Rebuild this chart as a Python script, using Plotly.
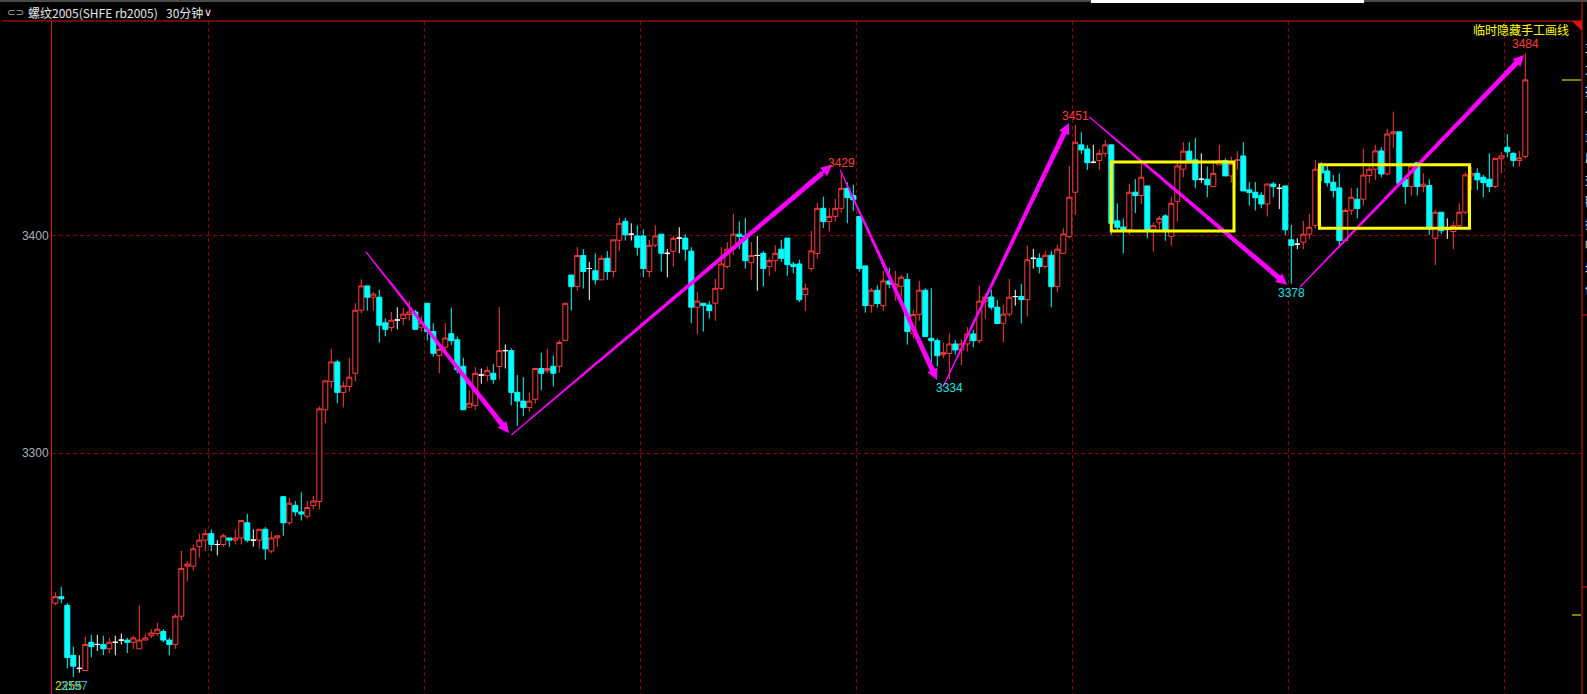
import plotly.graph_objects as go

# ---------------- data (30-minute bars, rb2005) ----------------
opens = [3231,3234,3230,3207,3201,3200,3213,3212,3212,3210,3213,3214,3214,3213,3210,3214,3216,3217,3218,3214,
         3212,3225,3248,3248,3257,3260,3263,3258,3258,3261,3260,3261,3268,3260,3260,3265,3255,3261,3280,3268,
         3276,3273,3271,3275.9,3277.8,3320,3333,3342,3328,3330.7,3336.8,3365.8,3377,3371.8,3371.8,3360,3357.8,3361.3,3362,3363.8,
         3365,3358,3369,3356,3345,3348.8,3355,3352.2,3340,3321.2,3322,3336,3335.7,3336.8,3339.9,3347.2,3347.2,3328,3324,3321,
         3324.8,3339,3338,3340,3340,3351.8,3382,3376.7,3391,3385,3384,3379.8,3389.7,3383.6,3398,3406.7,3400.8,3400,3400,3383.6,
         3395.7,3400.8,3392,3392.9,3399,3399,3393,3367.2,3369,3368.2,3369,3375.8,3385.9,3393.9,3400.8,3400,3387.7,3391,3392,3385.9,
         3388.6,3393.9,3399,3387,3387.1,3373,3385,3391.9,3412.7,3406.6,3409,3412.7,3421.9,3418.6,3409,3386.2,3367.9,3375,3367.9,3379.3,
         3376.4,3376.8,3380,3355,3363.8,3375,3352.9,3351.8,3345.3,3345.9,3350.3,3347.5,3350.3,3354.9,3351.8,3369.9,3371.9,3367.2,3359.8,3364,
         3372.1,3372.1,3370.7,3389.7,3389.7,3385.9,3391.1,3376.7,3392,3399.7,3420.1,3441.9,3440,3433.9,3434.7,3438,3441.9,3406.9,3404.1,3402.8,
         3420.1,3418.6,3423,3402.8,3406.1,3409.2,3399.7,3415.8,3430.7,3439,3435,3426.1,3426.1,3422.7,3432.7,3434.7,3427.6,3434.7,3436.8,3421.2,
         3420.1,3418.7,3414.7,3423.9,3421.9,3423,3398.2,3396.2,3397.1,3400.8,3404.9,3432,3429.9,3424.7,3422.1,3397.9,3411.8,3416.9,3416.9,3427.8,
         3430.7,3439.1,3428.5,3447,3447.9,3426,3422.7,3433.7,3422.7,3423.2,3398.9,3410.9,3403.1,3402,3404.7,3410.9,3427.6,3428.8,3427,3426.1,
         3422.7,3435.5,3440.8,3438,3434.7,3436.5]
highs = [3236,3238.5,3231,3211,3207,3215.6,3216.4,3216.4,3216,3215,3216,3217,3215,3216,3230,3217,3219,3222,3219,3215,
         3226,3255,3250.4,3258,3263,3265,3265,3260,3263,3261,3265,3269,3272,3265,3265,3266,3264,3262,3280,3279.5,
         3278,3282,3278,3280.3,3321.5,3333.3,3348,3343,3333,3344,3369,3380,3377,3374.2,3375.2,3362,3365,3367.2,3367,3370,
         3366,3363,3369,3359.8,3348.8,3359.8,3367,3353.7,3344,3329,3339.6,3339,3339.9,3341,3367.2,3350,3348.3,3336,3335,3328,
         3339,3346.2,3348,3345,3352,3369,3382,3394.8,3393.9,3388,3392,3391,3393,3398.2,3408.3,3408.3,3405.8,3404.9,3403,3398.2,
         3404.9,3400.8,3394,3400,3404,3400.8,3394.8,3374.2,3369,3370,3380.2,3394.8,3397.2,3410.1,3406.7,3408.3,3397.2,3400,3393,3389.7,
         3395.7,3398.2,3399,3388,3389,3378.2,3402.3,3415.3,3418.1,3412.7,3417,3429.3,3424.7,3423.5,3409,3386.2,3376,3377.3,3383.9,3385.3,
         3383.9,3382,3382.8,3366,3379.3,3375.9,3375.9,3352.9,3350.9,3355.2,3352.1,3352.4,3358,3356.8,3377.1,3373.6,3375.2,3370.5,3368.3,3380.1,
         3375.2,3377.8,3395.6,3394,3392,3393,3393,3395.9,3403.5,3432.2,3451.1,3447.7,3441.9,3441.9,3439.9,3444.2,3441.9,3415,3408.1,3423.9,
         3426.1,3433.4,3423,3406.1,3409.2,3410.1,3417.8,3434.7,3443.1,3443.1,3445,3438,3431.9,3435,3441.9,3435.7,3436.5,3439,3443.1,3424.7,
         3424.8,3420.1,3423.9,3424.8,3423.9,3423,3405.1,3398.9,3406.9,3410.1,3435,3434,3432.2,3428,3428.8,3412.7,3422.1,3422.1,3440.2,3432.8,
         3441.9,3440.8,3449.2,3457.2,3447.9,3427.9,3433.7,3433.7,3428.8,3426.1,3412,3410.9,3408.1,3406.6,3415,3429.3,3431.9,3431.1,3428.1,3438,
         3435.7,3438.8,3446.9,3438.5,3439.1,3484]
lows = [3230,3231,3201,3197,3199,3200,3206,3209,3207,3208,3207,3212,3208,3210,3210,3214,3215,3216,3213,3207,
        3210,3223,3241,3246,3252,3255,3255,3253,3257,3257,3258,3258,3259,3257,3256,3251,3254,3257,3262,3267,
        3271,3269,3270,3274.2,3274.2,3313.8,3330,3323,3321,3328.4,3333,3364.4,3365.6,3365.6,3350.9,3353.8,3356,3357,3359,3361,
        3357,3356,3351.9,3344.5,3336.8,3345.7,3349.8,3336.8,3320,3321.2,3320,3332,3333,3332,3334,3339,3322,3312.6,3317,3319,
        3322.8,3329,3336.8,3330.7,3337,3351.8,3365.6,3374.8,3375.8,3370.5,3377.6,3379.8,3379.8,3381,3393,3397.9,3397.9,3391,3381,3381,
        3394.8,3383.6,3381,3385.9,3392,3388.6,3359.8,3354.7,3356,3362,3361,3374.8,3385,3391.1,3393.9,3385,3379.8,3374.8,3376.7,3381.6,
        3383.6,3388,3381.6,3382.8,3369.6,3365.5,3383.6,3389.4,3403.7,3402,3406.6,3410.6,3405.8,3411.5,3383.6,3364.7,3364.7,3367,3365.5,3375.9,
        3370.2,3372,3350,3352.8,3361,3353.7,3340.6,3339.9,3343.7,3334,3345.3,3340.6,3346.8,3348.8,3350.6,3361.8,3366,3359.7,3351.1,3362.9,
        3367.9,3359.7,3362.9,3385,3382.8,3385.1,3367.2,3374.1,3392,3398.9,3409.7,3437.7,3430.4,3433.4,3430.4,3436.5,3400.5,3402.8,3392,3400.5,
        3410.5,3414.7,3398.9,3392.8,3402.8,3397.8,3395.5,3406.6,3427,3433.4,3421.9,3424.5,3417.8,3422.7,3432.7,3427.6,3424.5,3430.4,3420.7,3413.9,
        3411.7,3412.7,3408.9,3417.8,3412.4,3400.5,3378,3393.9,3393.9,3398.5,3403.5,3425,3422.7,3417.6,3395.7,3397.4,3409.7,3408.1,3414,3424.5,
        3425.8,3427,3428,3440.6,3424.2,3414.7,3418.6,3418.6,3420.1,3400.5,3386.6,3400.8,3398.6,3393.9,3403.2,3410.1,3421.2,3421.2,3417.8,3420.1,
        3421.9,3428.8,3436.2,3431.9,3431.9,3435.7]
closes = [3234,3233,3206,3202,3201,3212,3211,3212,3210,3213,3213,3214,3213,3215,3214,3215,3217.3,3219,3214,3212,
          3225,3247,3249,3256,3260,3263,3258,3258,3262,3260,3261,3269,3260,3260,3265,3256,3261,3262,3268,3277,
          3273,3272,3275,3278,3320.4,3333.3,3342,3328,3331,3335,3365.8,3377,3371.8,3373.2,3358.9,3357,3361.2,3361.3,3364,3365,
          3357,3360,3356,3346,3347.8,3353,3351.8,3338.4,3320,3323,3336.8,3336,3338,3334,3347.2,3347.2,3328,3324,3321,3324,
          3339,3336.8,3339,3336.8,3351,3369,3376.7,3391,3383.6,3385,3379.8,3389.7,3383.6,3398.2,3405.8,3400.5,3400.8,3394.8,3385,3395.7,
          3400,3392,3392,3398.9,3399,3393.9,3367.2,3370,3368,3365.6,3375.9,3387.1,3393.9,3400.8,3399.7,3388.6,3391,3391,3385,3388.6,
          3392,3389.7,3386.8,3385.9,3370.6,3375.9,3393.1,3412.7,3406.6,3409,3412.7,3421.9,3417.6,3416.6,3385,3367.9,3375,3368.9,3379.3,3377.8,
          3377.8,3381,3356,3363.8,3375,3353.7,3351.8,3344.9,3346.3,3350.3,3347.5,3350.3,3354.9,3351.8,3370,3371.9,3367.2,3359.7,3364,3371.8,
          3372.1,3370.7,3389,3389.7,3385.9,3391.1,3376.7,3393.9,3400.9,3417.8,3443.1,3439.6,3433.7,3433.9,3438,3441.9,3405.8,3404,3402.8,3420.1,
          3418.6,3427,3402.8,3404.7,3408.1,3402.8,3415,3432.2,3439,3433.7,3425.8,3426.1,3423.5,3428.8,3434.7,3427.6,3433.4,3435,3420.7,3420,
          3417.6,3414.7,3423.9,3422.7,3421.9,3402.8,3395.6,3396.2,3400.8,3404,3430.7,3429,3424.5,3420.9,3397.9,3411.7,3417.8,3412.6,3428,3430.7,
          3439.1,3428.5,3446.9,3447.9,3424.2,3422.7,3432.2,3422.7,3423.8,3404,3410.9,3402.4,3403.1,3404.7,3410.9,3428.1,3428.8,3425.8,3424.5,3422.7,
          3435.7,3436.8,3438.7,3434.7,3435.9,3471.8]

y_ticks = [3300, 3400]
day_breaks = [25.5, 61.5, 97.5, 133.5, 169.5, 205.5, 241.5]

# drawn arrows: (bar index, price) -> (bar index, price)
arrows = [
    (51.8, 3392.6, 75.6, 3309.3),
    (76.0, 3308.4, 129.45, 3432.7),
    (130.8, 3430.4, 146.95, 3333.7),
    (147.95, 3330.5, 168.95, 3452.0),
    (172.3, 3454.8, 205.3, 3377.5),
    (207.45, 3376.5, 244.8, 3483.3),
]
# drawn boxes: (bar index 0, bar index 1, price low, price high)
boxes = [
    (176.0, 196.45, 3402.3, 3434.0),
    (210.7, 235.7, 3403.5, 3432.7),
]
high_marks = [131, 170, 245]
low_marks = [149, 206]
side_panel_chars = list('主力持仓量成交额振幅均价')

W, H = 1587, 694
ML, MR, MT, MB = 52, 5, 21, 0
PW, PH = W - ML - MR, H - MT - MB


def px(p):
    return (p - ML) / PW


def py(p):
    return 1 - (p - MT) / PH


n = len(opens)
idx = list(range(n))
up = [i for i in idx if closes[i] > opens[i]]
dn = [i for i in idx if closes[i] < opens[i]]
dj = [i for i in idx if closes[i] == opens[i]]

RED = '#ff3c3c'
CYAN = '#00ffff'
MAG = '#ff00ff'


def candle(sel, line_c, fill_c):
    return go.Candlestick(
        x=sel,
        open=[opens[i] for i in sel], high=[highs[i] for i in sel],
        low=[lows[i] for i in sel], close=[closes[i] for i in sel],
        increasing=dict(line=dict(color=line_c, width=1), fillcolor=fill_c),
        decreasing=dict(line=dict(color=line_c, width=1), fillcolor=fill_c),
        whiskerwidth=0, hoverinfo='skip', showlegend=False)


fig = go.Figure()
fig.add_trace(candle(up, RED, '#000000'))
fig.add_trace(candle(dn, CYAN, CYAN))
fig.add_trace(candle(dj, '#ffffff', '#ffffff'))

shapes = []
annotations = []

# tapered arrows
NSEG = 18
for (x0, y0, x1, y1) in arrows:
    for k in range(NSEG):
        t0s = k / NSEG * 0.97
        t1 = (k + 1) / NSEG * 0.97
        w = 1 + 4.2 * ((k + 0.5) / NSEG) ** 0.8
        shapes.append(dict(type='line', xref='x', yref='y',
                           x0=x0 + (x1 - x0) * t0s, y0=y0 + (y1 - y0) * t0s,
                           x1=x0 + (x1 - x0) * t1, y1=y0 + (y1 - y0) * t1,
                           line=dict(color=MAG, width=w), layer='above'))
    annotations.append(dict(x=x1, y=y1, xref='x', yref='y',
                            ax=x0 + (x1 - x0) * 0.93, ay=y0 + (y1 - y0) * 0.93,
                            axref='x', ayref='y', showarrow=True, arrowhead=2,
                            arrowwidth=2.2, arrowsize=1, arrowcolor=MAG, text='', standoff=0))

for (bx0, bx1, by0, by1) in boxes:
    shapes.append(dict(type='rect', xref='x', yref='y', x0=bx0, x1=bx1, y0=by0, y1=by1,
                       line=dict(color='#ffff00', width=3), fillcolor='rgba(0,0,0,0)', layer='above'))

# frame lines
shapes.append(dict(type='line', xref='paper', yref='paper', x0=px(2), x1=1, y0=1, y1=1,
                   line=dict(color='#e01010', width=1)))
shapes.append(dict(type='line', xref='paper', yref='paper', x0=1, x1=1, y0=py(0), y1=0,
                   line=dict(color='#e01010', width=1)))
shapes.append(dict(type='path', xref='paper', yref='paper',
                   path=f'M {px(1572)} {py(21)} L {px(1582)} {py(21)} L {px(1582)} {py(31)} Z',
                   fillcolor='#e01010', line=dict(width=0)))
shapes.append(dict(type='line', xref='paper', yref='paper', x0=px(1562), x1=px(1581), y0=py(80), y1=py(80),
                   line=dict(color='#ffff00', width=1)))
shapes.append(dict(type='line', xref='paper', yref='paper', x0=px(1572), x1=px(1581), y0=py(615), y1=py(615),
                   line=dict(color='#ffff00', width=1)))
for yy in (315, 587):
    shapes.append(dict(type='line', xref='paper', yref='paper', x0=1, x1=px(1587), y0=py(yy), y1=py(yy),
                       line=dict(color='#e01010', width=1)))
# top strip
shapes.append(dict(type='rect', xref='paper', yref='paper', x0=px(0), x1=px(1587), y0=py(0), y1=py(2),
                   fillcolor='#4a4a4a', line=dict(width=0)))
shapes.append(dict(type='rect', xref='paper', yref='paper', x0=px(1091), x1=px(1364), y0=py(0), y1=py(3),
                   fillcolor='#ffffff', line=dict(width=0)))

# high/low labels
for i in high_marks:
    annotations.append(dict(x=i, y=highs[i], xref='x', yref='y', text=f'{highs[i]:.0f}',
                            showarrow=False, yshift=9, font=dict(color=RED, size=12, family='Liberation Sans')))
for i in low_marks:
    annotations.append(dict(x=i, y=lows[i], xref='x', yref='y', text=f'{lows[i]:.0f}',
                            showarrow=False, yshift=-9, font=dict(color='#20e0e0', size=12, family='Liberation Sans')))


def ptext(x, y, text, color, size, family, xanchor='left', yanchor='middle'):
    annotations.append(dict(x=px(x), y=py(y), xref='paper', yref='paper', text=text,
                            xanchor=xanchor, yanchor=yanchor, showarrow=False,
                            font=dict(color=color, size=size, family=family)))


ptext(53, 686, '2255', '#e0e000', 12, 'Liberation Sans')
ptext(59, 686, f'{lows[3]:.0f}', '#20c0e0', 12, 'Liberation Sans')

# title bar
ptext(5, 12, '⊂⊃', '#b0b0b0', 10, 'DejaVu Sans')
ptext(26, 12, '螺纹2005(SHFE rb2005)', '#e6e6e6', 12, 'Noto Sans CJK SC')
ptext(164, 12, '30分钟', '#e6e6e6', 12, 'Noto Sans CJK SC')
ptext(202, 12, '∨', '#e6e6e6', 11, 'DejaVu Sans')
ptext(1571, 30, '临时隐藏手工画线', '#ffff00', 12, 'Noto Sans CJK SC', xanchor='right')
# partially visible side panel (cut by the window edge)
for k, ch in enumerate(side_panel_chars):
    ptext(1583, 47 + 22 * k, ch, '#ffffff', 12, 'Noto Sans CJK SC')

fig.update_layout(
    width=W, height=H,
    margin=dict(l=ML, r=MR, t=MT, b=MB),
    paper_bgcolor='#000000', plot_bgcolor='#000000',
    boxgap=1 / 6, boxgroupgap=0,
    showlegend=False,
    shapes=shapes, annotations=annotations,
    xaxis=dict(range=[-0.55, 254.45], rangeslider=dict(visible=False), showticklabels=False,
               tickvals=day_breaks, ticks='', showgrid=True, gridcolor='#8b0000', griddash='4px,3px',
               gridwidth=1, zeroline=False, showline=False, fixedrange=True),
    yaxis=dict(range=[3189.2, 3498.9], tickvals=y_ticks, ticktext=[str(v) for v in y_ticks], ticks='',
               showgrid=True, gridcolor='#8b0000', griddash='4px,3px', gridwidth=1, zeroline=False,
               showline=True, linecolor='#e01010', linewidth=1,
               tickfont=dict(color='#a8b0b8', size=12, family='Liberation Sans'), fixedrange=True),
)

fig.write_html('out.html', config={'displayModeBar': False},
               post_script="document.body.style.margin='0px';document.body.style.overflow='hidden';"
                           "document.documentElement.style.background='#000';")
